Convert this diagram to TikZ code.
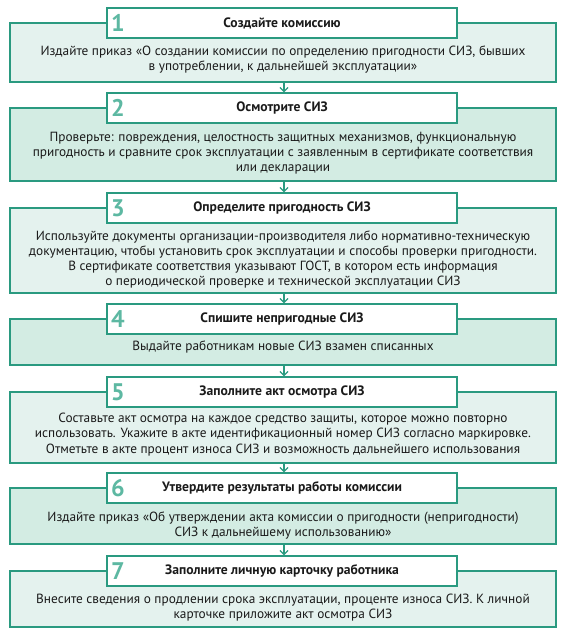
\documentclass[tikz,border=0pt]{standalone}
\usepackage{fontspec}
\setmainfont{PT Sans}
\usetikzlibrary{arrows.meta}
\definecolor{bordc}{HTML}{2A9A80}
\definecolor{fillA}{HTML}{E4F2EE}
\definecolor{fillB}{HTML}{D3ECE3}
\definecolor{digc}{HTML}{5DB8A2}
\definecolor{txtc}{HTML}{1A1A1A}
\begin{document}
\begin{tikzpicture}[x=1pt,y=-1pt,
  outerbox/.style={draw=bordc,line width=1.4pt,minimum width=546pt,inner sep=0pt},
  headbox/.style={draw=bordc,line width=1.4pt,fill=white,minimum width=350pt,minimum height=30pt,inner sep=0pt,
     font=\fontsize{13.6}{15}\selectfont\bfseries,text=txtc},
  bodytext/.style={align=center,inner sep=0pt,font=\fontsize{13.3}{15.2}\selectfont,text=txtc},
  digit/.style={inner sep=0pt,text=digc,font=\fontsize{24}{24}\selectfont\bfseries},
  arr/.style={draw=bordc,line width=1.2pt,-{Straight Barb[length=4pt,width=8pt,line width=1.2pt]}}
]
\useasboundingbox (0,0) rectangle (567,636);

% box 1
\node[outerbox,fill=fillA,minimum height=59pt] (o1) at (283,52.5) {};
\node[headbox] (h1) at (282,23) {Создайте комиссию};
\node[digit] (d1) at (118,23) {1};
\node[bodytext] (t1) at (283,59.5) {Издайте приказ «О создании комиссии по определению пригодности СИЗ, бывших\\в употреблении, к дальнейшей эксплуатации»};

% box 2
\node[outerbox,fill=fillB,minimum height=73pt] (o2) at (283,144.5) {};
\node[headbox] (h2) at (282,108) {Осмотрите СИЗ};
\node[digit] (d2) at (118,108) {2};
\node[bodytext] (t2) at (283,153) {Проверьте: повреждения, целостность защитных механизмов, функциональную\\пригодность и сравните срок эксплуатации с заявленным в сертификате соответствия\\или декларации};

% box 3
\node[outerbox,fill=fillA,minimum height=85pt] (o3) at (283,250.5) {};
\node[headbox] (h3) at (282,208) {Определите пригодность СИЗ};
\node[digit] (d3) at (118,208) {3};
\node[bodytext] (t3) at (283,259.5) {Используйте документы организации-производителя либо нормативно-техническую\\документацию, чтобы установить срок эксплуатации и способы проверки пригодности.\\В сертификате соответствия указывают ГОСТ, в котором есть информация\\о периодической проверке и технической эксплуатации СИЗ};

% box 4
\node[outerbox,fill=fillB,minimum height=46pt] (o4) at (283,342) {};
\node[headbox] (h4) at (282,319) {Спишите непригодные СИЗ};
\node[digit] (d4) at (118,319) {4};
\node[bodytext] (t4) at (283,347) {Выдайте работникам новые СИЗ взамен списанных};

% box 5
\node[outerbox,fill=fillA,minimum height=71pt] (o5) at (283,427.5) {};
\node[headbox] (h5) at (282,392) {Заполните акт осмотра СИЗ};
\node[digit] (d5) at (118,392) {5};
\node[bodytext] (t5) at (283,434.5) {Составьте акт осмотра на каждое средство защиты, которое можно повторно\\использовать. Укажите в акте идентификационный номер СИЗ согласно маркировке.\\Отметьте в акте процент износа СИЗ и возможность дальнейшего использования};

% box 6
\node[outerbox,fill=fillB,minimum height=56pt] (o6) at (283,516) {};
\node[headbox] (h6) at (282,488) {Утвердите результаты работы комиссии};
\node[digit] (d6) at (118,488) {6};
\node[bodytext] (t6) at (283,525.5) {Издайте приказ «Об утверждении акта комиссии о пригодности (непригодности)\\СИЗ к дальнейшему использованию»};

% box 7
\node[outerbox,fill=fillA,minimum height=56pt] (o7) at (283,599) {};
\node[headbox] (h7) at (282,571) {Заполните личную карточку работника};
\node[digit] (d7) at (118,571) {7};
\node[bodytext] (t7) at (283,607.5) {Внесите сведения о продлении срока эксплуатации, проценте износа СИЗ. К личной\\карточке приложите акт осмотра СИЗ};

% arrows
\foreach \a/\b in {o1/h2,o2/h3,o3/h4,o4/h5,o5/h6,o6/h7}
  \draw[arr] ([xshift=1pt]\a.south) -- ([xshift=1pt]\a.south |- \b.north);
\end{tikzpicture}
\end{document}
